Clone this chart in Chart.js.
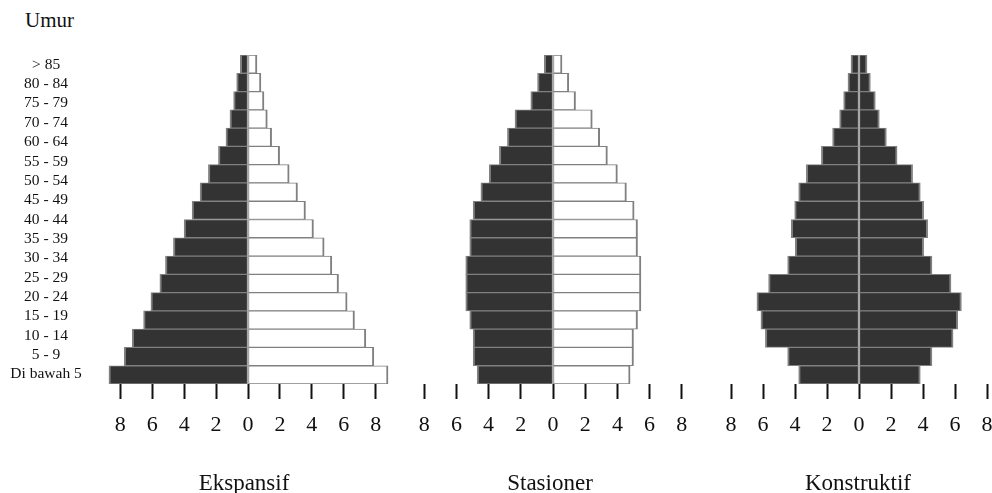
<!DOCTYPE html>
<html>
<head>
<meta charset="utf-8">
<script src="https://cdn.jsdelivr.net/npm/chart.js@4/dist/chart.umd.min.js"></script>
<style>
  html, body { margin: 0; padding: 0; overflow: hidden; background: #fff; width: 992px; height: 493px; }
  .box { position: absolute; top: 0; height: 493px; }
  .txt { position: absolute; font-family: 'Liberation Serif', 'Times New Roman', serif; color: #111; white-space: nowrap; }
  .title { top: 469px; font-size: 23px; line-height: 28px; transform: translateX(-50%); }
</style>
</head>
<body>
<div class="txt" style="left:25px;top:7px;font-size:21px;line-height:26px;">Umur</div>

<div class="box" style="left:0px;width:420px;"><canvas id="ekspansif"></canvas></div>
<div class="box" style="left:400px;width:310px;"><canvas id="stasioner"></canvas></div>
<div class="box" style="left:700px;width:310px;"><canvas id="konstruktif"></canvas></div>

<div class="txt title" style="left:244px;">Ekspansif</div>
<div class="txt title" style="left:550px;">Stasioner</div>
<div class="txt title" style="left:858px;">Konstruktif</div>

<script>
// bars, top (oldest) to bottom (youngest) - the picture has 18 bars
const ageGroups = [">85", "80 - 84", "75 - 79", "70 - 74", "65 - 69", "60 - 64", "55 - 59", "50 - 54",
  "45 - 49", "40 - 44", "35 - 39", "30 - 34", "25 - 29", "20 - 24", "15 - 19", "10 - 14", "5 - 9", "Di bawah 5"];
// printed labels on the axis (only 17, "65 - 69" is missing in the original)
const axisLabels = ["> 85", "80 - 84", "75 - 79", "70 - 74", "60 - 64", "55 - 59", "50 - 54", "45 - 49",
  "40 - 44", "35 - 39", "30 - 34", "25 - 29", "20 - 24", "15 - 19", "10 - 14", "5 - 9", "Di bawah 5"];
const xTicks = [-8, -6, -4, -2, 0, 2, 4, 6, 8];

const ekspansifLeft  = [0.48, 0.71, 0.90, 1.13, 1.38, 1.85, 2.48, 3.00, 3.50, 4.00, 4.67, 5.17, 5.52, 6.08, 6.54, 7.25, 7.75, 8.71];
const ekspansifRight = [0.56, 0.81, 1.00, 1.21, 1.48, 1.98, 2.58, 3.10, 3.60, 4.10, 4.77, 5.25, 5.67, 6.21, 6.67, 7.38, 7.88, 8.77];

const stasionerLeft  = [0.54, 0.96, 1.38, 2.36, 2.83, 3.33, 3.96, 4.48, 4.96, 5.17, 5.17, 5.42, 5.42, 5.42, 5.17, 4.96, 4.96, 4.71];
const stasionerRight = [0.56, 0.98, 1.40, 2.44, 2.90, 3.38, 4.00, 4.56, 5.04, 5.25, 5.25, 5.46, 5.46, 5.46, 5.25, 5.00, 5.00, 4.79];

const konstruktifLeft  = [0.50, 0.69, 0.96, 1.21, 1.65, 2.35, 3.29, 3.77, 4.02, 4.23, 3.98, 4.46, 5.65, 6.38, 6.13, 5.85, 4.46, 3.77];
const konstruktifRight = [0.50, 0.71, 1.02, 1.27, 1.71, 2.38, 3.35, 3.83, 4.04, 4.29, 4.04, 4.56, 5.75, 6.40, 6.17, 5.88, 4.56, 3.83];

const serif = "'Liberation Serif', 'Times New Roman', serif";
const dark = "#333333";
const edge = "#808080";

function makePyramid(id, left, right, rightColor, pad, withLabels) {
  const canvas = document.getElementById(id);
  const box = canvas.parentNode;
  canvas.width = box.clientWidth;
  canvas.height = box.clientHeight;

  const scales = {
    x: {
      type: "linear",
      min: -9,
      max: 9,
      stacked: true,
      border: { display: false },
      grid: { drawOnChartArea: false, drawTicks: true, tickLength: 15, tickColor: "#111", tickWidth: 2 },
      ticks: {
        stepSize: 1,
        autoSkip: false,
        padding: 13,
        color: "#111",
        font: { family: serif, size: 22 },
        callback: v => Math.abs(v)
      },
      afterBuildTicks: s => { s.ticks = s.ticks.filter(t => xTicks.includes(t.value)); },
      afterFit: s => { s.height = 60; }
    },
    y: {
      type: "category",
      stacked: true,
      offset: true,
      display: false
    }
  };

  if (withLabels) {
    scales.y2 = {
      type: "category",
      position: "left",
      labels: axisLabels,
      offset: true,
      grid: { display: false },
      border: { display: false },
      ticks: {
        crossAlign: "center",
        padding: 14.5,
        autoSkip: false,
        color: "#111",
        font: { family: serif, size: 15.5 }
      },
      afterFit: s => { s.width = pad.axis; }
    };
  }

  new Chart(canvas, {
    type: "bar",
    data: {
      labels: ageGroups,
      datasets: [{
        data: left.map(v => -v),
        backgroundColor: dark,
        borderColor: edge,
        borderWidth: { left: 2, right: 1, top: 1, bottom: 1 },
        borderSkipped: false,
        barPercentage: 1,
        categoryPercentage: 1
      }, {
        data: right,
        backgroundColor: rightColor,
        borderColor: edge,
        borderWidth: { left: 1, right: 2, top: 1, bottom: 1 },
        borderSkipped: false,
        barPercentage: 1,
        categoryPercentage: 1
      }]
    },
    options: {
      indexAxis: "y",
      responsive: false,
      animation: false,
      layout: { padding: { top: 55, bottom: 49, left: pad.left, right: pad.right } },
      plugins: { legend: { display: false }, tooltip: { enabled: false } },
      scales: scales
    }
  });
}

makePyramid("ekspansif", ekspansifLeft, ekspansifRight, "#ffffff", { left: 0, right: 28.3, axis: 104.3 }, true);
makePyramid("stasioner", stasionerLeft, stasionerRight, "#ffffff", { left: 8.1, right: 12.1 }, false);
makePyramid("konstruktif", konstruktifLeft, konstruktifRight, dark, { left: 15, right: 7 }, false);
</script>
</body>
</html>
